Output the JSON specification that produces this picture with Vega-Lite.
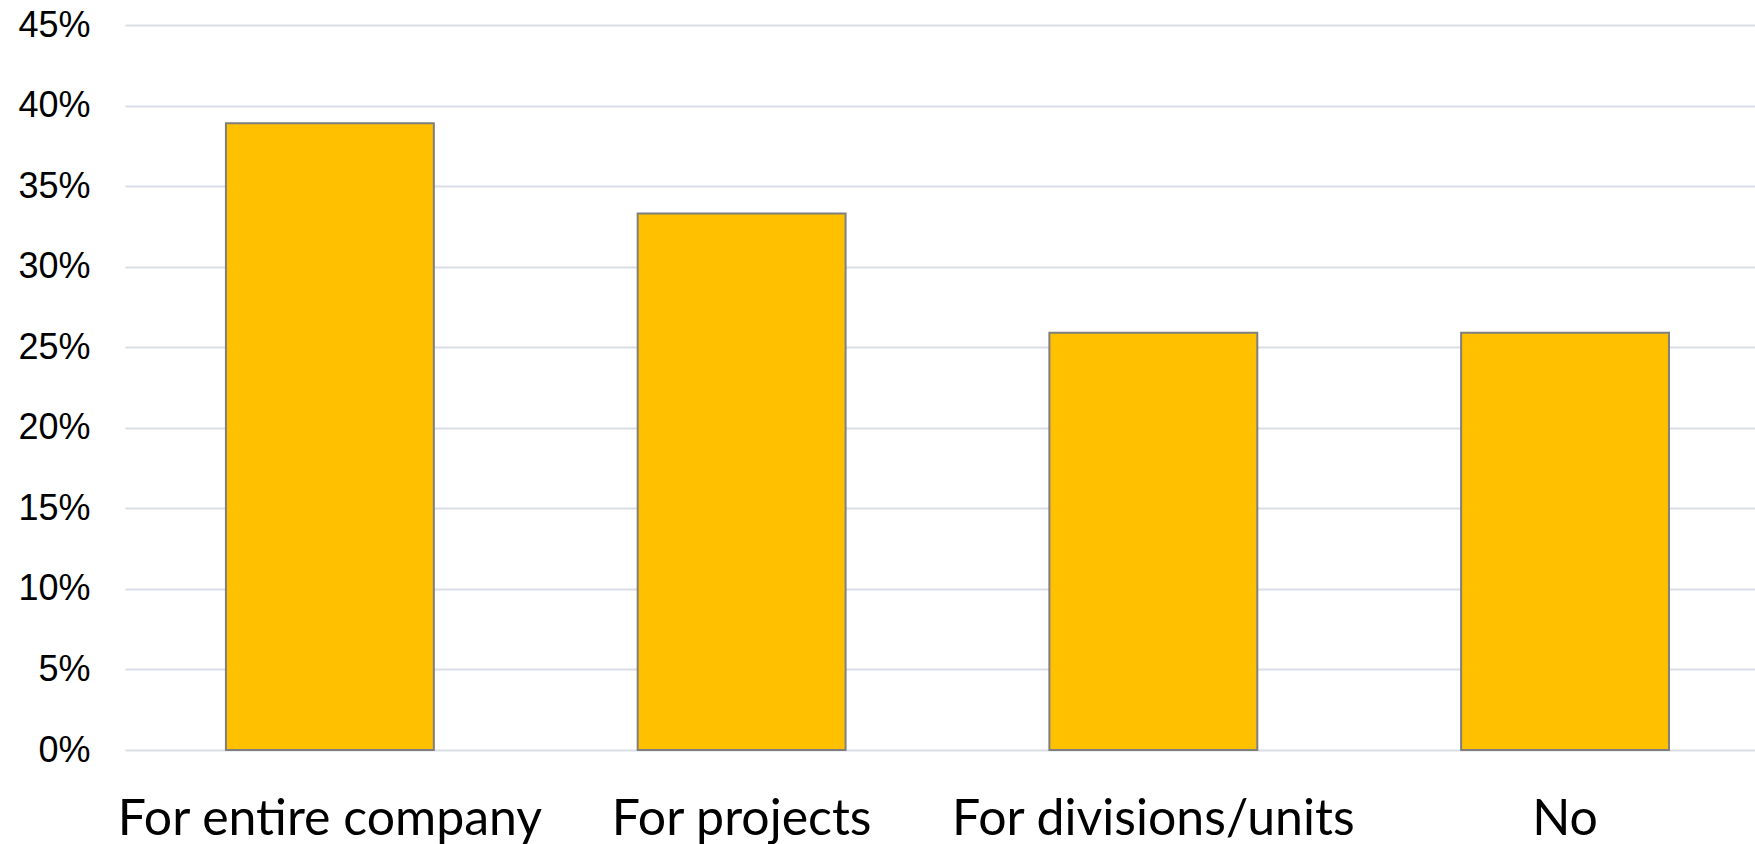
{
  "$schema": "https://vega.github.io/schema/vega-lite/v6.json",
  "autosize": {"type": "none"},
  "padding": {"left": 125, "top": 25, "right": 0, "bottom": 94},
  "width": 1630,
  "height": 725,
  "background": "white",
  "config": {"view": {"stroke": null}},
  "data": {"values": [
    {"category": "For entire company", "share": 0.389},
    {"category": "For projects", "share": 0.333},
    {"category": "For divisions/units", "share": 0.259},
    {"category": "No", "share": 0.259}
  ]},
  "mark": {"type": "bar", "color": "#FFC000", "stroke": "#7F7F7F", "strokeWidth": 2},
  "encoding": {
    "x": {
      "field": "category", "type": "nominal", "sort": null,
      "scale": {"paddingInner": 0.495, "paddingOuter": 0.227, "align": 0.54},
      "axis": {
        "title": null, "labelAngle": 0, "domain": false, "ticks": false, "grid": false,
        "labelFont": "Lato", "labelFontSize": 50, "labelColor": "#000000", "labelLimit": 0,
        "labelBaseline": "alphabetic", "labelPadding": 84, "labelOverlap": false
      }
    },
    "y": {
      "field": "share", "type": "quantitative",
      "scale": {"domain": [0, 0.45], "nice": false},
      "axis": {
        "title": null, "format": ".0%", "values": [0, 0.05, 0.1, 0.15, 0.2, 0.25, 0.3, 0.35, 0.4, 0.45],
        "domain": false, "ticks": false, "grid": true, "gridColor": "#D9DDE6", "gridWidth": 2,
        "labelFont": "Liberation Sans", "labelFontSize": 36, "labelColor": "#000000",
        "labelPadding": 35, "labelBaseline": "middle"
      }
    }
  }
}
